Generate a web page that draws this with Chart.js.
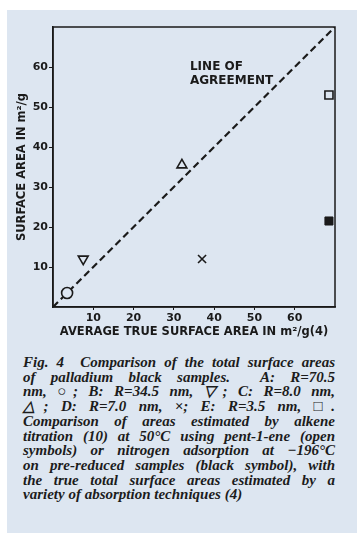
<!DOCTYPE html>
<html>
<head>
<meta charset="utf-8">
<script src="https://cdn.jsdelivr.net/npm/chart.js@4.4.0/dist/chart.umd.min.js"></script>
<style>
  body { margin: 0; background: #fff; width: 360px; height: 533px; position: relative; overflow: hidden; }
  #panel { position: absolute; left: 7px; top: 10px; width: 350px; height: 523px; background: #dde6f1; }
  #wrap { position: absolute; left: 0; top: 0; width: 360px; height: 345px; }
  #caption { position: absolute; left: 23px; top: 355px; width: 312px;
             font: italic bold 15px "Liberation Serif", serif; line-height: 14.7px; color: #1c1c1c; }
  #caption div { text-align: justify; text-align-last: justify; white-space: nowrap; }
  #caption div.last { text-align-last: left; }
</style>
</head>
<body>
<div id="panel"></div>
<div id="wrap"><canvas id="chart" width="360" height="345"></canvas></div>
<div id="caption">
  <div>Fig. 4&nbsp; Comparison of the total surface areas</div>
  <div>of palladium black samples.&nbsp; A: R=70.5</div>
  <div>nm, ○; B: R=34.5 nm, ▽; C: R=8.0 nm,</div>
  <div>△; D: R=7.0 nm, ×; E: R=3.5 nm, □.</div>
  <div>Comparison of areas estimated by alkene</div>
  <div>titration (10) at 50°C using pent-1-ene (open</div>
  <div>symbols) or nitrogen adsorption at −196°C</div>
  <div>on pre-reduced samples (black symbol), with</div>
  <div>the true total surface areas estimated by a</div>
  <div class="last">variety of absorption techniques (4)</div>
</div>
<script>
"use strict";

// samples A..E: true area vs area from alkene titration (open symbols)
var samples = ['A', 'B', 'C', 'D', 'E'];
var trueArea = [3.5, 7.5, 32, 37, 68.5];
var alkeneArea = [3.5, 12, 35.5, 12, 53];
var symbols = ['circle', 'triangle', 'triangle', 'crossRot', 'rect'];
var rotations = [0, 180, 0, 0, 0];
// nitrogen adsorption on pre-reduced sample E (black symbol)
var nitrogenTrue = [68.5];
var nitrogenArea = [21.5];
// line of agreement y = x
var agreement = [0, 70];
var xTicks = [10, 20, 30, 40, 50, 60];
var yTicks = [10, 20, 30, 40, 50, 60];
var noteLines = ['LINE OF', 'AGREEMENT'];
var noteX = 34;
var noteY = [60, 56.5];

var ink = '#1a1a1a';
var paper = '#dde6f1';
var tickFont = { family: '"DejaVu Sans", sans-serif', size: 11, weight: 'bold' };
var titleFont = { family: '"DejaVu Sans", sans-serif', size: 11.5, weight: 'bold' };

var datasets = [{
    label: 'Line of agreement',
    data: agreement.map(function (v) { return { x: v, y: v }; }),
    showLine: true,
    borderColor: ink,
    borderWidth: 2.2,
    borderDash: [7, 4],
    pointRadius: 0,
    order: 10
}];

samples.forEach(function (s, i) {
    datasets.push({
        label: s,
        data: [{ x: trueArea[i], y: alkeneArea[i] }],
        pointStyle: symbols[i],
        pointRotation: rotations[i],
        pointRadius: symbols[i] === 'circle' ? 5.5 : 5.7,
        pointBorderWidth: 1.6,
        pointBorderColor: ink,
        pointBackgroundColor: paper,
        clip: false
    });
});

datasets.push({
    label: 'E (N2)',
    data: nitrogenTrue.map(function (v, i) { return { x: v, y: nitrogenArea[i] }; }),
    pointStyle: 'rect',
    pointRadius: 5.7,
    pointBorderWidth: 1,
    pointBorderColor: ink,
    pointBackgroundColor: ink,
    clip: false
});

// box round the plot and the "line of agreement" note
var framePlugin = {
    id: 'frame',
    afterDatasetsDraw: function (chart) {
        var a = chart.chartArea;
        var ctx = chart.ctx;
        ctx.save();
        ctx.strokeStyle = ink;
        ctx.lineWidth = 1.5;
        ctx.strokeRect(a.left, a.top, a.right - a.left, a.bottom - a.top);
        ctx.fillStyle = ink;
        ctx.font = 'bold 12px "DejaVu Sans", sans-serif';
        ctx.textBaseline = 'middle';
        noteLines.forEach(function (t, i) {
            ctx.fillText(t, chart.scales.x.getPixelForValue(noteX), chart.scales.y.getPixelForValue(noteY[i]));
        });
        ctx.restore();
    }
};

function axis(ticks, title, extra) {
    var o = {
        type: 'linear',
        min: 0,
        max: 70,
        afterBuildTicks: function (scale) {
            scale.ticks = ticks.map(function (v) { return { value: v }; });
        },
        grid: { display: true, drawOnChartArea: false, drawTicks: true, tickLength: 4, color: ink },
        border: { display: true, color: ink, width: 1.5 },
        ticks: { color: ink, font: tickFont, padding: 1 },
        title: { display: true, text: title, color: ink, font: titleFont }
    };
    return Object.assign(o, extra);
}

var ctx = document.getElementById('chart').getContext('2d');
var myChart = new Chart(ctx, {
    type: 'scatter',
    data: { datasets: datasets },
    options: {
        responsive: false,
        animation: false,
        layout: { padding: { top: 27, right: 25, left: 0, bottom: 0 } },
        plugins: { legend: { display: false }, tooltip: { enabled: false } },
        scales: {
            x: axis(xTicks, 'AVERAGE TRUE SURFACE AREA IN m²/g(4)', {
                afterFit: function (scale) { scale.height = 38; }
            }),
            y: axis(yTicks, 'SURFACE AREA IN m²/g', {
                afterFit: function (scale) { scale.width = 53; }
            })
        }
    },
    plugins: [framePlugin]
});
myChart.options.scales.x.grid.tickLength = 3;
myChart.options.scales.x.ticks.padding = 2;
myChart.options.scales.x.title.padding = { top: 0, bottom: 6 };
myChart.options.scales.y.title.padding = { top: 15, bottom: 0 };
myChart.update();
</script>
</body>
</html>
